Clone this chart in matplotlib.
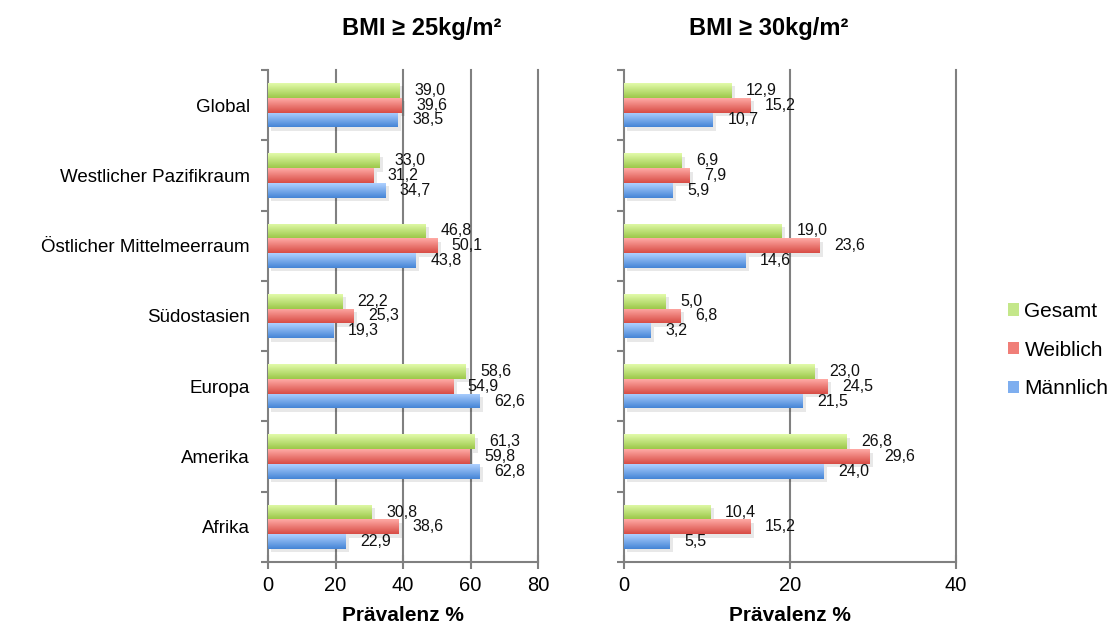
import numpy as np
import matplotlib
matplotlib.use('Agg')
import matplotlib.pyplot as plt
import matplotlib.patheffects as pe
from matplotlib.colors import to_rgb
from matplotlib.patches import Patch

plt.rcParams['font.family'] = ['Liberation Sans', 'DejaVu Sans']

regions = ['Global', 'Westlicher Pazifikraum', 'Östlicher Mittelmeerraum',
           'Südostasien', 'Europa', 'Amerika', 'Afrika']
series = ['Gesamt', 'Weiblich', 'Männlich']

# BMI >= 25
bmi25_gesamt = [39.0, 33.0, 46.8, 22.2, 58.6, 61.3, 30.8]
bmi25_weiblich = [39.6, 31.2, 50.1, 25.3, 54.9, 59.8, 38.6]
bmi25_maennlich = [38.5, 34.7, 43.8, 19.3, 62.6, 62.8, 22.9]

# BMI >= 30
bmi30_gesamt = [12.9, 6.9, 19.0, 5.0, 23.0, 26.8, 10.4]
bmi30_weiblich = [15.2, 7.9, 23.6, 6.8, 24.5, 29.6, 15.2]
bmi30_maennlich = [10.7, 5.9, 14.6, 3.2, 21.5, 24.0, 5.5]

ticks25 = [0, 20, 40, 60, 80]
ticks30 = [0, 20, 40]

# (top colour, bottom colour) for the gradient
grads = {
    'Gesamt': ('#e2fbaa', '#9cc84a'),
    'Weiblich': ('#ffaaa5', '#d84c45'),
    'Männlich': ('#aed0ff', '#4585d6'),
}
legend_cols = {'Gesamt': '#c4e78a', 'Weiblich': '#f07e78', 'Männlich': '#7eaeef'}

grid_col = '#808080'
bar_h = 0.21
offsets = [-bar_h, 0.0, bar_h]


def gradient_img(top, bottom, n=32):
    t = np.linspace(0, 1, n)[:, None, None]
    a = np.array(to_rgb(top))[None, None, :]
    b = np.array(to_rgb(bottom))[None, None, :]
    return a * (1 - t) + b * t


def draw_panel(ax, data, ticks):
    xmax = ticks[-1]
    y = np.arange(len(regions)) + 0.5
    for name, vals, off in zip(series, data, offsets):
        img = gradient_img(*grads[name])
        bars = ax.barh(y + off, vals, height=bar_h, color=grads[name][1],
                       linewidth=0, zorder=3,
                       path_effects=[pe.SimplePatchShadow(offset=(2.5, -2.5), shadow_rgbFace='k', alpha=0.09),
                                     pe.Normal()])
        for b, v, yy in zip(bars, vals, y + off):
            im = ax.imshow(img, extent=(0, v, yy + bar_h / 2, yy - bar_h / 2),
                           aspect='auto', zorder=4, interpolation='bilinear')
            im.set_clip_path(b)
            ax.annotate(f'{v:.1f}'.replace('.', ','), (v, yy), xytext=(10.5, 0),
                        textcoords='offset points', ha='left', va='center',
                        fontsize=11.5, color='#111111', zorder=5)
    ax.set_xlim(0, xmax)
    ax.set_ylim(len(regions), 0)
    ax.set_xticks(ticks)
    for t in ticks[1:]:
        ax.axvline(t, color=grid_col, lw=1.5, zorder=1, clip_on=False)
    ax.set_yticks(y)
    ax.set_yticks(np.arange(len(regions) + 1), minor=True)
    ax.tick_params(axis='y', which='major', length=0, labelsize=13.5, pad=13)
    ax.tick_params(axis='y', which='minor', length=5, width=1.5, color=grid_col, direction='out')
    ax.tick_params(axis='x', length=10, width=1.5, color=grid_col, direction='inout', labelsize=14.5, pad=5)
    for s in ['top', 'right']:
        ax.spines[s].set_visible(False)
    for s in ['left', 'bottom']:
        ax.spines[s].set_color(grid_col)
        ax.spines[s].set_linewidth(1.5)
    ax.set_xlabel('Prävalenz %', fontsize=15, fontweight='bold', labelpad=8)


fig = plt.figure(figsize=(11.1, 6.25), dpi=100)
ax1 = fig.add_axes([268 / 1110, 1 - 562 / 625, 270 / 1110, 492 / 625])
ax2 = fig.add_axes([624 / 1110, 1 - 562 / 625, 332 / 1110, 492 / 625])

draw_panel(ax1, [bmi25_gesamt, bmi25_weiblich, bmi25_maennlich], ticks25)
ax1.set_yticklabels(regions)
draw_panel(ax2, [bmi30_gesamt, bmi30_weiblich, bmi30_maennlich], ticks30)
ax2.set_yticklabels([])

fig.text(422 / 1110, 1 - 28 / 625, 'BMI ≥ 25kg/m²', ha='center', va='center',
         fontsize=17, fontweight='bold')
fig.text(769 / 1110, 1 - 28 / 625, 'BMI ≥ 30kg/m²', ha='center', va='center',
         fontsize=17, fontweight='bold')

handles = [Patch(facecolor=legend_cols[s], edgecolor='none') for s in series]
fig.legend(handles, series, loc='center left', bbox_to_anchor=(989 / 1110, 1 - 350 / 625),
           frameon=False, fontsize=15, handlelength=0.55, handleheight=0.55,
           handletextpad=0.25, labelspacing=0.95)

fig.savefig('out.png', dpi=100)
